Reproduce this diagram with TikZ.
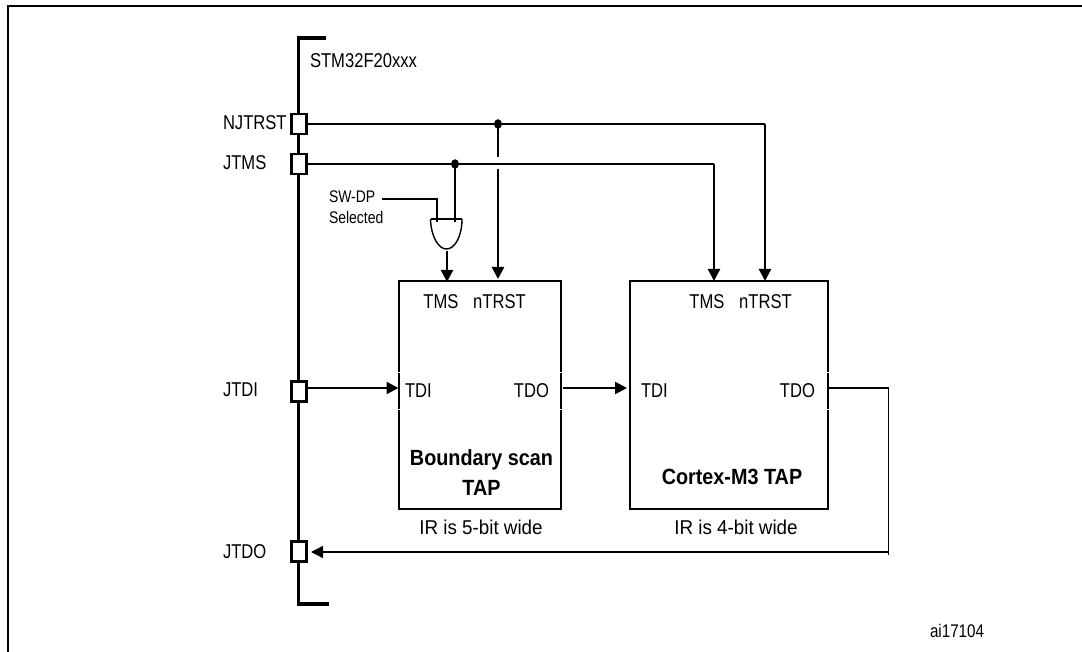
\documentclass[tikz,border=0pt]{standalone}
\usepackage{fontspec}
\usetikzlibrary{arrows.meta}
\newfontfamily\lblfont[FakeStretch=0.83]{Liberation Sans}
\newfontfamily\irfont[FakeStretch=0.94]{Liberation Sans}
\newfontfamily\boldlbl[FakeStretch=0.9]{Liberation Sans Bold}
\tikzset{
  x=1pt,y=-1pt,
  lbl/.style={inner sep=0pt,outer sep=0pt,text height=14.3pt,text depth=0pt,font=\lblfont\fontsize{20}{22}\selectfont},
  irlbl/.style={lbl,font=\irfont\fontsize{20}{22}\selectfont},
  idlbl/.style={lbl,font=\lblfont\fontsize{18.3}{22}\selectfont},
  smalllbl/.style={lbl,text height=11.5pt,font=\lblfont\fontsize{16.8}{18}\selectfont},
  titlelbl/.style={inner sep=0pt,outer sep=0pt,align=center,font=\boldlbl\fontsize{22}{30}\selectfont},
  pinbox/.style={draw,line width=2.2pt,fill=white,minimum width=15pt,minimum height=20pt,inner sep=0pt,outer sep=0pt},
  tapbox/.style={draw,line width=2.2pt,inner sep=0pt,outer sep=0pt},
  wire/.style={line width=2.3pt},
  thinwire/.style={line width=1.4pt},
  arr/.style={-{Triangle[length=12pt,width=12pt]}},
  dot/.style={ellipse,fill=black,inner sep=0pt,minimum width=8pt,minimum height=9.5pt,outer sep=0pt},
  notch/.style={white,line width=1pt},
}
\usetikzlibrary{shapes.geometric}
\begin{document}
\begin{tikzpicture}
\useasboundingbox (0,0) rectangle (1082,652);
% page frame
\draw[line width=2.2pt] (8,652) -- (8,6) -- (1082,6);
% bus
\draw[line width=3.5pt] (326,38) -- (298.5,38) -- (298.5,604) -- (329,604);
% pins
\node[pinbox] (pinR) at (299,124) {};
\node[pinbox] (pinM) at (299,164) {};
\node[pinbox] (pinI) at (299,391.5) {};
\node[pinbox] (pinO) at (299,551.5) {};
% TAP boxes
\node[tapbox,minimum width=162pt,minimum height=228pt] (tapA) at (480,395) {};
\node[tapbox,minimum width=198pt,minimum height=228pt] (tapB) at (729,395) {};
% notches
\draw[notch] (398,373) -- (400,373) (398,409) -- (400,409);
\draw[notch] (560,373) -- (562,373) (560,409) -- (562,409);
\draw[notch] (827,373) -- (829,373) (827,409) -- (829,409);
% helper coordinates
\coordinate (jR) at (498,124);
\coordinate (jM) at (455,164);
\coordinate (cornerR) at (765,124);
\coordinate (cornerM) at (714,164);
\coordinate (aTopR) at (498,157);
\coordinate (aBotR) at (498,169);
\coordinate (aTipR) at (498,279);
\coordinate (aTms) at (447,282);
\coordinate (bTms) at (714,281);
\coordinate (bTrst) at (765,281);
\coordinate (swStart) at (382,199);
\coordinate (swCorner) at (437,199);
\coordinate (gateIn1) at (437,222);
\coordinate (gateIn2) at (455,222);
\coordinate (gateL) at (430.5,219);
\coordinate (gateR) at (462,219);
\coordinate (gateB) at (446.5,249);
\coordinate (gateOut) at (447,251);
\coordinate (tdiA) at (398.5,388);
\coordinate (pinIout) at (307,388);
\coordinate (tdoA) at (563,388);
\coordinate (tdiB) at (627,388);
\coordinate (tdoB) at (828,388);
\coordinate (retTop) at (888.5,387);
\coordinate (retStart) at (888.5,388);
\coordinate (retBot) at (888.5,555);
\coordinate (retCorner) at (888.5,552);
\coordinate (pinOin) at (311,552);
% wires
\draw[wire] (pinR.east) -- (cornerR);
\draw[wire,arr] (cornerR) -- (bTrst);
\draw[wire] (pinM.east) -- (cornerM);
\draw[wire,arr] (cornerM) -- (bTms);
\draw[wire] (jR) -- (aTopR);
\draw[wire,arr] (aBotR) -- (aTipR);
\draw[wire] (jM) -- (gateIn2);
\draw[wire] (swStart) -- (swCorner) -- (gateIn1);
\draw[wire,arr] (gateOut) -- (aTms);
\draw[wire,arr] (pinIout) -- (tdiA);
\draw[wire,arr] (tdoA) -- (tdiB);
\draw[wire] (tdoB) -- (retStart);
\draw[thinwire] (retTop) -- (retBot);
\draw[thinwire,arr] (retCorner) -- (pinOin);
\node[dot] (dotR) at (jR) {};
\node[dot] (dotM) at (jM) {};
% AND gate
\draw[line width=1.4pt] (gateL) .. controls (431,236) and (438,249) .. (gateB) .. controls (455,249) and (462,236) .. (gateR);
\draw[wire] (gateL) -- (gateR);
% labels
\node[lbl,anchor=west] (tChip) at (310,60) {STM32F20xxx};
\node[lbl,anchor=west] (tR) at (223,122) {NJTRST};
\node[lbl,anchor=west] (tM) at (223,162) {JTMS};
\node[lbl,anchor=west] (tI) at (223,389) {JTDI};
\node[lbl,anchor=west] (tO) at (223,551) {JTDO};
\node[smalllbl,anchor=west] (tSw) at (329,197) {SW-DP};
\node[smalllbl,anchor=west] (tSel) at (329,218) {Selected};
\node[lbl] (tA1) at (441,301) {TMS};
\node[lbl] (tA2) at (499.5,301) {nTRST};
\node[lbl] (tB1) at (707,301) {TMS};
\node[lbl] (tB2) at (765.5,301) {nTRST};
\node[lbl,anchor=west] (tA3) at (405,390) {TDI};
\node[lbl,anchor=east] (tA4) at (549,390) {TDO};
\node[lbl,anchor=west] (tB3) at (641,390) {TDI};
\node[lbl,anchor=east] (tB4) at (815,390) {TDO};
\node[titlelbl] (tA) at (481.5,473) {Boundary scan\\TAP};
\node[titlelbl] (tB) at (732,477) {Cortex-M3 TAP};
\node[irlbl] (tA5) at (481,527) {IR is 5-bit wide};
\node[irlbl] (tB5) at (736,527) {IR is 4-bit wide};
\node[idlbl,anchor=west] (tId) at (930,630) {ai17104};
\end{tikzpicture}
\end{document}
